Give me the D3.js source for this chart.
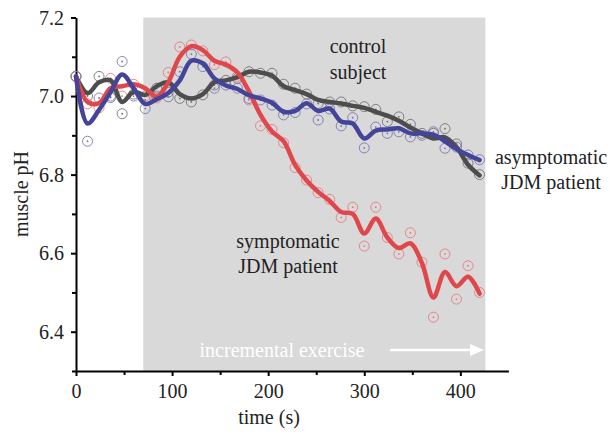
<!DOCTYPE html>
<html><head><meta charset="utf-8">
<script src="https://cdn.jsdelivr.net/npm/d3@7"></script>
<style>
html,body{margin:0;padding:0;background:#fff;}
svg{display:block;}
svg text{font-family:"Liberation Serif","Times New Roman","DejaVu Serif",serif !important;}
</style></head>
<body><svg id="chart" width="609" height="434"></svg>
<script>
const tSec = [0,12,24,36,48,60,72,84,96,108,120,132,144,156,168,180,192,204,216,228,240,252,264,276,288,300,312,324,336,348,360,372,384,396,408,420];

const controlPts = [7.05,7.00,7.05,7.00,6.955,7.005,6.99,7.02,7.01,6.994,6.985,7.003,7.028,7.04,7.045,7.062,7.058,7.058,7.03,7.02,7.005,6.981,6.985,6.985,6.975,6.973,6.966,6.935,6.947,6.928,6.905,6.905,6.917,6.878,6.829,6.80];
const controlFit = [7.05,7.007,7.035,7.04,6.985,7.011,7.003,7.025,7.035,7.005,6.994,7.005,7.035,7.04,7.048,7.062,7.06,7.052,7.025,7.015,7.005,6.99,6.985,6.981,6.975,6.97,6.96,6.95,6.937,6.92,6.905,6.892,6.895,6.87,6.825,6.798];

const asymPts = [7.05,6.885,6.995,6.996,7.088,7.0,6.968,7.0,6.998,7.062,7.107,7.075,7.02,7.028,7.02,6.994,6.99,6.977,6.952,6.958,6.98,6.939,6.967,6.924,6.945,6.868,6.921,6.905,6.909,6.896,6.90,6.909,6.867,6.87,6.85,6.838];
const asymFit = [7.05,6.93,6.965,7.01,7.055,7.02,6.98,6.992,7.008,7.04,7.09,7.083,7.045,7.027,7.018,7.002,6.994,6.983,6.96,6.962,6.982,6.962,6.968,6.935,6.93,6.892,6.912,6.915,6.918,6.905,6.905,6.902,6.885,6.865,6.85,6.837];

const sympPts = [7.05,6.98,6.97,7.045,7.0,7.03,7.0,6.995,7.06,7.125,7.13,7.115,7.08,7.087,7.05,6.99,6.924,6.915,6.881,6.818,6.786,6.754,6.737,6.691,6.717,6.618,6.717,6.64,6.598,6.652,6.577,6.437,6.598,6.483,6.568,6.50];
const sympFit = [7.05,6.985,6.982,7.02,7.025,7.03,7.02,6.998,7.035,7.10,7.127,7.117,7.09,7.08,7.06,7.012,6.952,6.91,6.885,6.825,6.785,6.756,6.733,6.705,6.70,6.65,6.688,6.64,6.613,6.625,6.575,6.487,6.552,6.516,6.54,6.497];

const xTicks = [0,100,200,300,400];
const xMinor = [50,150,250,350];
const yTicks = [6.4,6.6,6.8,7.0,7.2];
const yMinor = [6.3,6.5,6.7,6.9,7.1];
const exerciseSpan = [70,426];

const FONT = '"Liberation Serif","Times New Roman","DejaVu Serif",serif';
const FS = 20;

const svg = d3.select("#chart");
const x = d3.scaleLinear().domain([0,450]).range([76,508.4]);
const y = d3.scaleLinear().domain([6.3,7.2]).range([371,17.5]);

svg.append("rect")
  .attr("x", x(exerciseSpan[0])).attr("y", y(7.2))
  .attr("width", x(exerciseSpan[1]) - x(exerciseSpan[0]))
  .attr("height", y(6.3) - y(7.2))
  .attr("fill", "#d9d9d9");

const xAxis = svg.append("g").attr("transform", `translate(0,${y(6.3)})`)
  .call(d3.axisBottom(x).tickValues(xTicks).tickSize(5).tickSizeOuter(0).tickFormat(d3.format("d")));
const xAxisMinor = svg.append("g").attr("transform", `translate(0,${y(6.3)})`)
  .call(d3.axisBottom(x).tickValues(xMinor).tickSize(4).tickSizeOuter(0).tickFormat(""));
xAxisMinor.select(".domain").remove();
const yAxis = svg.append("g").attr("transform", `translate(${x(0)},0)`)
  .call(d3.axisLeft(y).tickValues(yTicks).tickSize(5).tickSizeOuter(0).tickFormat(d3.format(".1f")));
const yAxisMinor = svg.append("g").attr("transform", `translate(${x(0)},0)`)
  .call(d3.axisLeft(y).tickValues(yMinor).tickSize(4).tickSizeOuter(0).tickFormat(""));
yAxisMinor.select(".domain").remove();

[xAxis, yAxis, xAxisMinor, yAxisMinor].forEach(g => g.attr("font-family", FONT).attr("font-size", FS));
svg.selectAll(".domain").attr("stroke", "#000").attr("stroke-width", 2);
svg.selectAll(".tick line").attr("stroke", "#000").attr("stroke-width", 2);
xAxis.selectAll(".tick text").attr("font-size", FS).attr("font-family", FONT).attr("y", 9).attr("dy", "0.9em").attr("fill", "#222");
yAxis.selectAll(".tick text").attr("font-size", FS).attr("font-family", FONT).attr("x", -12).attr("dy", "0.34em").attr("fill", "#222");

svg.append("text").attr("x", 269).attr("y", 424).attr("text-anchor", "middle")
  .attr("font-family", FONT).attr("font-size", FS).attr("fill", "#222").text("time (s)");
svg.append("text").attr("transform", "translate(28,194) rotate(-90)").attr("text-anchor", "middle")
  .attr("font-family", FONT).attr("font-size", FS).attr("fill", "#222").text("muscle pH");

const series = [
  {pts: controlPts, fit: controlFit, line: "#4d4d4d", ring: "#707070"},
  {pts: sympPts, fit: sympFit, line: "#e0474c", ring: "#e8787b"},
  {pts: asymPts, fit: asymFit, line: "#44449a", ring: "#7373b0"}
];

series.forEach(s => {
  const g = svg.append("g");
  g.selectAll("circle.ring").data(s.pts).join("circle").attr("class","ring")
    .attr("cx", (d,i) => x(tSec[i])).attr("cy", d => y(d)).attr("r", 5)
    .attr("fill", "none").attr("stroke", s.ring).attr("stroke-width", 1).attr("opacity", 0.85);
  g.selectAll("circle.dot").data(s.pts).join("circle").attr("class","dot")
    .attr("cx", (d,i) => x(tSec[i])).attr("cy", d => y(d)).attr("r", 0.9)
    .attr("fill", s.ring);
});

const line = d3.line().x((d,i) => x(tSec[i])).y(d => y(d)).curve(d3.curveCatmullRom.alpha(0.5));
series.forEach(s => {
  svg.append("path").datum(s.fit).attr("d", line)
    .attr("fill", "none").attr("stroke", s.line).attr("stroke-width", 4.5)
    .attr("stroke-linejoin", "round").attr("stroke-linecap", "round");
});

const ann = [
  {x: 358, y: 53, t: "control"}, {x: 358, y: 79, t: "subject"},
  {x: 551, y: 164, t: "asymptomatic"}, {x: 551, y: 189, t: "JDM patient"},
  {x: 288, y: 248, t: "symptomatic"}, {x: 288, y: 273, t: "JDM patient"}
];
svg.selectAll("text.ann").data(ann).join("text").attr("class","ann")
  .attr("x", d => d.x).attr("y", d => d.y).attr("text-anchor", "middle")
  .attr("font-family", FONT).attr("font-size", FS).attr("fill", "#222").text(d => d.t);

svg.append("text").attr("x", 282).attr("y", 357).attr("text-anchor", "middle")
  .attr("font-family", FONT).attr("font-size", FS).attr("fill", "#fff").text("incremental exercise");
svg.append("line").attr("x1", 390).attr("x2", 472).attr("y1", 350).attr("y2", 350)
  .attr("stroke", "#fff").attr("stroke-width", 2.5);
svg.append("path").attr("d", "M470,344 L484,350 L470,356 Z").attr("fill", "#fff");
</script>
</body></html>
